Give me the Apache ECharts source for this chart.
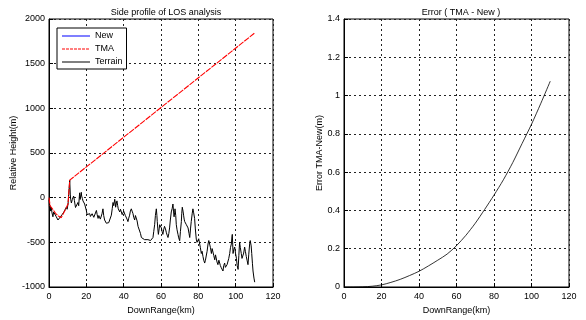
<!DOCTYPE html>
<html><head><meta charset="utf-8">
<script src="https://cdn.jsdelivr.net/npm/echarts@6/dist/echarts.min.js"></script>
<style>html,body{margin:0;padding:0;background:#fff}#c{width:586px;height:320px}</style>
</head><body><div id="c"></div>
<script>
// ---- data ----
const xTicks = [0, 20, 40, 60, 80, 100, 120];
const heightTicks = [-1000, -500, 0, 500, 1000, 1500, 2000];
const errorTicks = [0, 0.2, 0.4, 0.6, 0.8, 1, 1.2, 1.4];

const terrainKm = [0,0.3,0.6,0.9,1.25,1.6,2.1,2.5,3,3.4,3.9,4.3,4.8,5.2,5.7,6.1,6.6,7.0,7.5,8.0,8.4,8.8,9.3,9.7,10.2,10.6,11.1,11.4,11.6,12.0,12.5,12.9,13.2,13.6,13.9,14.2,14.6,15.0,15.5,15.9,16.4,16.7,17.0,17.3,17.5,17.9,18.2,18.6,19.1,19.5,20.0,20.4,20.9,21.3,21.8,22.2,22.7,23.1,23.6,24.0,24.5,24.9,25.4,25.8,26.3,26.7,27.1,27.5,28.0,28.4,28.9,29.3,29.8,30.2,30.7,31.1,31.6,32.0,32.5,33.0,33.4,33.9,34.3,34.7,35.2,35.5,35.7,36.0,36.4,36.8,37.1,37.5,37.9,38.3,38.8,39.2,39.6,40.0,40.5,40.9,41.4,41.8,42.3,42.7,43.2,43.6,44.1,44.5,45.0,45.4,45.9,46.3,46.8,47.2,47.7,48.1,48.6,49.0,49.5,50.0,50.4,51.2,52.1,53.0,53.9,54.4,54.8,55.2,55.7,56.1,56.6,57.0,57.5,57.8,58.0,58.3,58.6,59.0,59.3,59.7,60.2,60.6,61.0,61.4,61.9,62.4,62.9,63.3,63.75,64.2,64.6,65.0,65.5,66.0,66.4,66.7,67.0,67.3,67.5,67.9,68.2,68.6,69.1,69.5,70.0,70.4,70.9,71.1,71.4,71.8,72.1,72.4,72.7,73.1,73.6,74.0,74.5,75.0,75.4,75.8,76.2,76.7,77.1,77.5,78.0,78.4,78.9,79.3,79.8,80.2,80.7,81.1,81.6,82.0,82.5,82.9,83.4,83.8,84.3,84.7,85.2,85.6,86.1,86.5,87.0,87.4,87.9,88.3,88.8,89.2,89.6,90.0,90.5,91.0,91.4,91.8,92.3,92.7,93.2,93.6,94.1,94.5,95.0,95.4,95.9,96.3,96.8,97.2,97.7,98.0,98.2,98.4,98.6,99.0,99.5,99.9,100.4,100.8,101.3,101.7,102.1,102.5,103.0,103.4,103.9,104.3,104.8,105.2,105.7,106.1,106.6,107.0,107.5,107.8,108.0,108.3,108.6,109.0,109.3,109.8,110.2];
const terrainM = [-20,-130,-90,-150,-107,-170,-214,-160,-180,-150,-214,-200,-250,-235,-250,-215,-230,-190,-200,-160,-143,-170,-107,-130,-71,-90,196,40,-18,-60,-18,-40,18,-30,-71,-110,-107,-120,-54,-90,54,-20,-18,60,18,-10,-36,-20,-71,-60,-143,-190,-196,-170,-179,-210,-214,-180,-196,-220,-232,-200,-143,-190,-232,-200,-214,-240,-250,-180,-125,-200,-250,-270,-286,-265,-268,-280,-250,-230,-196,-120,-54,-90,-18,-60,-107,-70,-36,-90,-125,-110,-160,-130,-143,-190,-179,-150,-160,-200,-214,-240,-268,-230,-196,-150,-125,-150,-179,-220,-250,-200,-214,-260,-321,-300,-339,-400,-446,-460,-464,-470,-464,-470,-475,-480,-482,-470,-446,-380,-303,-200,-125,-200,-268,-350,-411,-350,-303,-320,-339,-380,-411,-360,-321,-350,-393,-420,-446,-400,-339,-250,-160,-120,-71,-150,-214,-170,-125,-200,-303,-360,-411,-450,-482,-380,-268,-180,-107,-150,-196,-240,-268,-280,-303,-320,-339,-400,-446,-350,-268,-180,-125,-170,-232,-350,-464,-500,-518,-460,-482,-560,-625,-600,-660,-700,-732,-700,-678,-600,-518,-480,-500,-560,-625,-570,-589,-650,-696,-640,-660,-720,-750,-700,-714,-760,-785,-800,-821,-760,-732,-780,-785,-750,-732,-680,-625,-560,-518,-440,-411,-520,-625,-580,-553,-620,-678,-760,-803,-650,-500,-560,-625,-680,-696,-620,-553,-600,-660,-700,-750,-640,-518,-480,-464,-540,-625,-740,-821,-900,-946];

const tmaKm = [0,0.6,1.3,2.7,3.5,5,6.5,8.4,9.3,10.2,11.1,110];
const tmaM = [0,-90,-110,-150,-175,-205,-225,-150,-110,-70,196,1840];

const errKm = [0,5,10,15,20,25,30,35,40,45,50,55,60,65,70,75,80,85,90,95,100,105,110];
const errM = [0,0,0.001,0.004,0.011,0.024,0.04,0.06,0.082,0.11,0.14,0.172,0.216,0.27,0.333,0.405,0.48,0.56,0.65,0.75,0.85,0.96,1.075];

const pairs = (a, b) => a.map((v, i) => [v, b[i]]);

const FONT = 'Liberation Sans, Arial, sans-serif';
const lab = {color:'#000', fontFamily:FONT, fontSize:9};
const BLUE = '#0000ff', RED = '#ff0000', BLACK = '#000000';

// legend icon: thin horizontal bar (solid or dashed) in a 28x10 box
function lineIcon(dash, gap){
  let p = 'path://M0,0H0.05V0.05H0Z M27.95,9.95H28V10H27.95Z';
  if (!dash) { p += ' M0,4.5H28V5.5H0Z'; return p; }
  for (let x = 0; x < 28; x += dash + gap) {
    const e = Math.min(28, x + dash);
    p += ' M' + x + ',4.5H' + e + 'V5.5H' + x + 'Z';
  }
  return p;
}

function xAx(idx){
  return {type:'value', gridIndex:idx, min:0, max:120, interval:20,
    name:'DownRange(km)', nameLocation:'middle', nameGap:19,
    nameTextStyle:{color:'#000', fontFamily:FONT, fontSize:9},
    axisLine:{onZero:false, lineStyle:{color:'#000', width:1}},
    axisTick:{inside:true, length:4, lineStyle:{color:'#000'}},
    axisLabel:Object.assign({margin:5, formatter:v => String(v)}, lab),
    splitLine:{show:true, lineStyle:{color:'#222', type:[2,3], width:1}}};
}
function yAx(idx, min, max, interval, name, gap){
  return {type:'value', gridIndex:idx, min:min, max:max, interval:interval,
    name:name, nameLocation:'middle', nameGap:gap,
    nameTextStyle:{color:'#000', fontFamily:FONT, fontSize:9},
    axisLine:{lineStyle:{color:'#000', width:1}},
    axisTick:{inside:true, length:4, lineStyle:{color:'#000'}},
    axisLabel:Object.assign({margin:4, formatter:v => String(v)}, lab),
    splitLine:{show:true, lineStyle:{color:'#222', type:[2,3], width:1}}};
}

const chart = echarts.init(document.getElementById('c'), null, {renderer:'canvas'});
chart.setOption({
  animation:false,
  backgroundColor:'#fff',
  title:[
    {text:'Side profile of LOS analysis', left:161, top:3, textAlign:'center',
     textStyle:{fontFamily:FONT, fontSize:9, fontWeight:'normal', color:'#000'}},
    {text:'Error ( TMA - New )', left:456, top:3, textAlign:'center',
     textStyle:{fontFamily:FONT, fontSize:9, fontWeight:'normal', color:'#000'}}
  ],
  grid:[
    {left:49, right:313, top:19, bottom:26, show:true, borderColor:'#000', borderWidth:1, backgroundColor:'transparent'},
    {left:344, right:17, top:19, bottom:26, show:true, borderColor:'#000', borderWidth:1, backgroundColor:'transparent'}
  ],
  legend:{
    data:[
      {name:'New', icon:lineIcon(0,0)},
      {name:'TMA', icon:lineIcon(3,1)},
      {name:'Terrain', icon:lineIcon(0,0)}
    ],
    orient:'vertical', left:57, top:28, symbolKeepAspect:false,
    padding:[3,4,2,5], itemGap:3, itemWidth:28, itemHeight:10,
    backgroundColor:'#fff', borderColor:'#000', borderWidth:1, borderRadius:0,
    textStyle:{fontFamily:FONT, fontSize:9, color:'#000'}},
  xAxis:[xAx(0), xAx(1)],
  yAxis:[yAx(0,-1000,2000,500,'Relative Height(m)',28), yAx(1,0,1.4,0.2,'Error TMA-New(m)',20)],
  series:[
    {name:'New', type:'line', xAxisIndex:0, yAxisIndex:0, data:[], symbol:'none',
     lineStyle:{color:BLUE, width:1}, itemStyle:{color:BLUE}},
    {name:'TMA', type:'line', xAxisIndex:0, yAxisIndex:0, data:pairs(tmaKm,tmaM), symbol:'none', z:3,
     lineStyle:{color:RED, width:1.1, type:[6,1]}, itemStyle:{color:RED}},
    {name:'Terrain', type:'line', xAxisIndex:0, yAxisIndex:0, data:pairs(terrainKm,terrainM), symbol:'none', z:2,
     lineStyle:{color:BLACK, width:1}, itemStyle:{color:BLACK}},
    {name:'Error', type:'line', xAxisIndex:1, yAxisIndex:1, data:pairs(errKm,errM), symbol:'none', smooth:0.3,
     lineStyle:{color:BLACK, width:0.8}, itemStyle:{color:BLACK}}
  ]
});
</script></body></html>
